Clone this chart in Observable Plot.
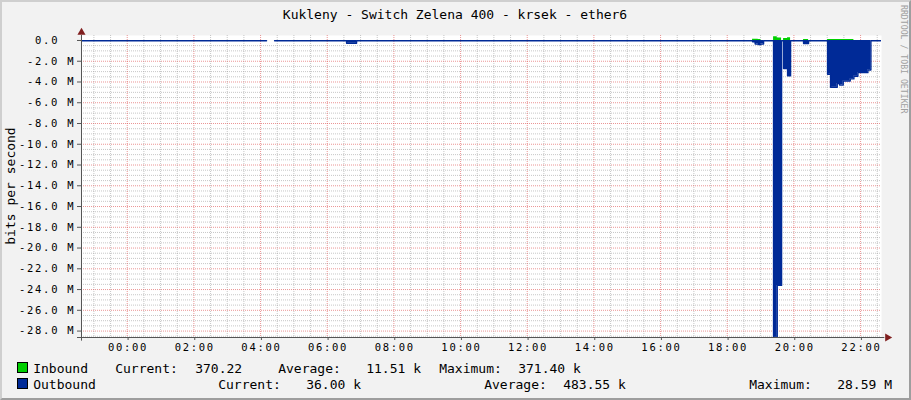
<!DOCTYPE html>
<html>
<head>
<meta charset="utf-8">
<script src="https://cdn.jsdelivr.net/npm/d3@7"></script>
<script src="https://cdn.jsdelivr.net/npm/@observablehq/plot@0.6"></script>
<style>
  html, body { margin: 0; padding: 0; background: #f2f2f2; }
  #wrap { position: relative; width: 911px; height: 400px; background: #f2f2f2; overflow: hidden; }
  #wrap > svg { position: absolute; left: 0; top: 0; }
  g[aria-label="x-axis tick label"] text { letter-spacing: 1.7px; }
  g[aria-label="y-axis tick label"] text { letter-spacing: 1.7px; }
  #frame { position: absolute; left: 0; top: 0; width: 907px; height: 396px;
           border-top: 2px solid #cfcfcf; border-left: 2px solid #cfcfcf;
           border-right: 2px solid #9e9e9e; border-bottom: 2px solid #9e9e9e; pointer-events: none; }
</style>
</head>
<body>
<div id="wrap"></div>
<script>
// ---- data (hours since midnight, values in Mbit/s) ----
const times     = [-1.37, 4.18, 4.18, 4.42, 6.58, 6.88, 18.76, 18.84, 18.93, 19.01, 19.09, 19.39, 19.50, 19.63, 19.69, 19.81, 19.90, 20.29, 20.44, 21.01, 21.10, 21.30, 21.37, 21.48, 21.69, 21.80, 21.92, 22.22, 22.31, 22.60];
const inboundM  = [0.004, 0.004, null, 0.004, 0.01, 0.004, 0.12, 0.12, 0.10, 0.004, 0.004, 0.37, 0.25, 0.004, 0.20, 0.26, 0.004, 0.10, 0.004, 0.10, 0.10, 0.10, 0.10, 0.10, 0.10, 0.004, 0.004, 0.004, 0.004, 0.004];
const outboundM = [0.02, 0.02, null, 0.02, 0.27, 0.02, 0.12, 0.35, 0.38, 0.35, 0.02, 28.59, 23.6, 0.02, 2.7, 3.4, 0.02, 0.3, 0.02, 3.25, 4.5, 4.15, 4.3, 3.9, 3.7, 3.45, 3.1, 2.85, 0.02, 0.02];

const xTickHours  = [0, 2, 4, 6, 8, 10, 12, 14, 16, 18, 20, 22];
const xTickLabels = ["00:00","02:00","04:00","06:00","08:00","10:00","12:00","14:00","16:00","18:00","20:00","22:00"];
const yTickValues = [0, -2, -4, -6, -8, -10, -12, -14, -16, -18, -20, -22, -24, -26, -28];
const yTickLabels = ["0.0\u00a0\u00a0","-2.0 M","-4.0 M","-6.0 M","-8.0 M","-10.0 M","-12.0 M","-14.0 M","-16.0 M","-18.0 M","-20.0 M","-22.0 M","-24.0 M","-26.0 M","-28.0 M"];

const seriesNames   = ["Inbound", "Outbound"];
const seriesColors  = ["#00CF00", "#002A97"];
const currentVals   = ["370.22", "36.00 k"];
const averageVals   = ["11.51 k", "483.55 k"];
const maximumVals   = ["371.40 k", "28.59 M"];

const titleText = "Kukleny - Switch Zelena 400 - krsek - ether6";
const yLabel = "bits per second";
const credit = "RRDTOOL / TOBI OETIKER";

// ---- build table ----
const rows = times.map((t, i) => ({
  t,
  inb: inboundM[i],
  outb: outboundM[i] == null ? null : -outboundM[i]
}));

const xDom = [-1.372, 22.628];
const yDom = [-28.62, 0.48];
const xMinor = d3.range(-1, 22.63, 0.5).filter(h => h % 2 !== 0);
const yMinor = d3.range(0, -28.6, -0.5).filter(v => v % 2 !== 0);

const gridMinor = {stroke: "rgb(143,143,143)", strokeOpacity: 0.5, strokeDasharray: "1,1"};
const gridMajor = {stroke: "rgb(222,79,79)", strokeOpacity: 0.6, strokeDasharray: "1,1"};

const chart = Plot.plot({
  width: 911,
  height: 400,
  marginLeft: 81,
  marginRight: 30,
  marginTop: 35,
  marginBottom: 63,
  x: {domain: xDom, axis: null, label: null},
  y: {domain: yDom, axis: null, label: null},
  style: {background: "transparent", fontFamily: "DejaVu Sans Mono", overflow: "visible", color: "#000"},
  marks: [
    Plot.frame({fill: "#ffffff", stroke: null}),
    Plot.gridX(xMinor, gridMinor),
    Plot.gridY(yMinor, gridMinor),
    Plot.gridX(xTickHours, gridMajor),
    Plot.gridY(yTickValues.filter(v => v !== 0), gridMajor),
    Plot.areaY(rows, {x: "t", y: "inb", curve: "step-after", fill: seriesColors[0], clip: true}),
    Plot.areaY(rows, {x: "t", y: "outb", curve: "step-after", fill: seriesColors[1], clip: true}),
    Plot.lineY(rows, {x: "t", y: "outb", curve: "step-after", stroke: seriesColors[1], strokeWidth: 1.4, clip: true}),
    Plot.ruleY([yDom[0]], {x1: xDom[0] - 0.12, x2: xDom[1] + 0.1, stroke: "#555"}),
    Plot.ruleX([xDom[0]], {y1: yDom[0] - 0.35, y2: yDom[1], stroke: "#555"}),
    Plot.dot([0], {x: xDom[1], y: yDom[0], dx: 6, symbol: "triangle", rotate: 90, r: 3, fill: "#801f1f", stroke: null}),
    Plot.dot([0], {x: xDom[0], y: yDom[1], dy: -3, symbol: "triangle", r: 3, fill: "#801f1f", stroke: null}),
    Plot.axisX(xTickHours, {
      tickFormat: d => xTickLabels[xTickHours.indexOf(d)], label: null,
      tickSize: 3, tickPadding: 3.5, stroke: "#555", fontSize: 10.5, dx: 0.85, fill: "#000"
    }),
    Plot.axisY(yTickValues, {
      tickFormat: d => yTickLabels[yTickValues.indexOf(d)], label: null,
      tickSize: 4, tickPadding: 2.3, stroke: "#555", fontSize: 10.5, fill: "#000"
    })
  ]
});

const wrap = document.getElementById("wrap");
wrap.appendChild(chart);

// ---- overlay text: title, axis label, credit, legend ----
const ov = d3.create("svg")
  .attr("width", 911).attr("height", 400)
  .style("font-family", "DejaVu Sans Mono")
  .style("pointer-events", "none");

ov.append("text").attr("x", 455).attr("y", 19).attr("text-anchor", "middle")
  .attr("font-size", 13).attr("fill", "#000").text(titleText);

ov.append("text").attr("transform", "translate(14.5,186) rotate(-90)").attr("text-anchor", "middle")
  .attr("font-size", 13).attr("fill", "#000").text(yLabel);

ov.append("text").attr("transform", "translate(900.5,5) rotate(90)").attr("text-anchor", "start")
  .attr("font-size", 8.2).attr("fill", "#a0a0a0").text(credit);

const legendBase = [373, 389];
const legendCols = [
  [34, 116, 196, 279, 367, 440, 519],
  [34, 219, 307, 485, 564, 750, 838]
];
seriesNames.forEach((name, i) => {
  const y = legendBase[i];
  ov.append("rect").attr("x", 17.5).attr("y", y - 10.5).attr("width", 10).attr("height", 10)
    .attr("fill", seriesColors[i]).attr("stroke", "#000").attr("stroke-width", 1);
  const parts = [name, "Current:", currentVals[i], "Average:", averageVals[i], "Maximum:", maximumVals[i]];
  parts.forEach((p, j) => {
    ov.append("text").attr("x", legendCols[i][j] - 0.8).attr("y", y)
      .attr("font-size", 13).attr("fill", "#000").text(p);
  });
});

wrap.appendChild(ov.node());
const fr = document.createElement("div");
fr.id = "frame";
wrap.appendChild(fr);
</script>
</body>
</html>
